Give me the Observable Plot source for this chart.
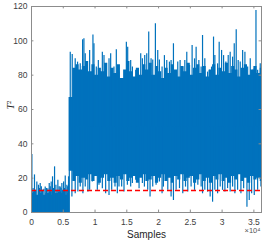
<!DOCTYPE html>
<html><head><meta charset="utf-8">
<script src="https://cdn.jsdelivr.net/npm/d3@7"></script>
<script src="https://cdn.jsdelivr.net/npm/@observablehq/plot@0.6"></script>
<style>html,body{margin:0;padding:0;background:#fff;}</style>
</head><body><div id="chart"></div>
<script>
// ---- data ----
const xTicks = [0, 5000, 10000, 15000, 20000, 25000, 30000, 35000];
const xTickLabels = ["0", "0.5", "1", "1.5", "2", "2.5", "3", "3.5"];
const yTicks = [0, 20, 40, 60, 80, 100, 120];
const threshold = 12.8;
const faultStart = 5950;
const faultStartTop = 67;

// normal operation: dense band 0..top
const normalX   = [0, 500, 1000, 1500, 2000, 2500, 3000, 3500, 4000, 4500, 5000, 5500, 5950];
const normalTop = [11, 12, 10, 11, 10, 11, 12, 10, 11, 12, 11, 10, 11];
const normalSpikeX = [60, 250, 470, 650, 840, 1100, 1250, 1370, 1550, 1730, 1950, 2160, 2350, 2570, 2790, 2950, 3100, 3310, 3450, 3630, 3840, 4000, 4150, 4350, 4520, 4650, 4780, 4900, 5050, 5200, 5310, 5450, 5570, 5700, 5830];
const normalSpikeY = [33.8, 14, 21.9, 13, 17.8, 15.9, 14, 16.9, 15, 13.0, 13.5, 14.9, 14, 13.9, 16.9, 15, 17.8, 20.8, 14, 26.6, 15.9, 13, 18.8, 15, 14.9, 14, 16.9, 13, 17.8, 14, 21.2, 13, 15.9, 15, 20.8];

// faulty operation: dense band skyline low..high (every 500 samples)
const faultX = [5950, 6500, 7000, 7500, 8000, 8500, 9000, 9500, 10000, 10500, 11000, 11500, 12000, 12500, 13000, 13500, 14000, 14500, 15000, 15500, 16000, 16500, 17000, 17500, 18000, 18500, 19000, 19500, 20000, 20500, 21000, 21500, 22000, 22500, 23000, 23500, 24000, 24500, 25000, 25500, 26000, 26500, 27000, 27500, 28000, 28500, 29000, 29500, 30000, 30500, 31000, 31500, 32000, 32500, 33000, 33500, 34000, 34500, 35000, 35500, 36000, 36200];
const faultHigh = [67, 84, 86, 83, 85, 88, 82, 86, 80, 84, 82, 87, 79, 84, 81, 86, 78, 83, 88, 82, 79, 84, 80, 86, 83, 87, 80, 85, 82, 78, 84, 81, 86, 83, 79, 85, 82, 87, 80, 84, 86, 81, 85, 79, 83, 86, 80, 84, 82, 87, 81, 85, 83, 79, 84, 86, 80, 83, 85, 81, 84, 82];
const faultLow  = [24, 18, 21, 17, 20, 19, 22, 18, 21, 17, 20, 22, 18, 20, 17, 21, 19, 22, 18, 20, 21, 17, 20, 22, 18, 19, 21, 17, 20, 22, 18, 20, 17, 21, 19, 22, 18, 20, 21, 17, 19, 22, 18, 20, 17, 21, 19, 22, 18, 20, 17, 21, 19, 22, 18, 20, 17, 21, 19, 20, 18, 20];

// upward spikes above the band
const peakX = [6100, 6410, 6880, 7250, 7670, 8040, 8250, 8460, 8730, 9150, 9670, 9830, 10200, 10520, 10880, 11150, 11410, 11780, 12200, 12460, 12720, 12980, 13350, 13770, 14300, 14930, 15140, 15610, 15880, 16400, 16820, 17190, 17450, 17820,
  18140, 18450, 18820, 19080, 19500, 19870, 20130, 20550, 20920, 21290, 21710, 21970, 22340, 22760, 23020, 23390, 23810, 24130, 24440, 24870, 25280, 25660, 25910, 26340, 26700,
  26920, 27280, 27710, 27960, 28340, 28650, 28860, 29290, 29540, 29920, 30230, 30590, 30960, 31270, 31650, 31910, 32220, 32530, 32850, 33230, 33590, 34020, 34430, 34810, 35060, 35330, 35590, 36000];
const peakY = [93.4, 92.0, 89.5, 87.6, 86.6, 100.6, 101.2, 92.5, 78.9, 94.4, 103.4, 98.3, 84.7, 88.5, 77.9, 93.4, 91.4, 86.6, 89.5, 92.5, 82.8, 84.7, 94.8, 81.8, 77.0, 99.2, 96.3, 88.5, 84.7, 82.8, 81.8, 92.5, 89.5, 91.4,
  92.5, 105.1, 89.5, 88.9, 109.9, 94.4, 88.9, 84.7, 91.4, 88.5, 87.6, 88.5, 98.3, 81.8, 87.6, 88.5, 84.7, 88.5, 93.4, 85.7, 97.3, 89.5, 96.3, 88.5, 84.7,
  103.1, 89.5, 81.8, 82.8, 84.7, 102.2, 91.4, 86.6, 99.2, 94.4, 91.4, 87.6, 91.4, 93.4, 90.5, 98.3, 106.4, 88.5, 87.6, 94.4, 93.4, 84.7, 89.5, 82.8, 83.8, 117.7, 82.8, 86.6];

// downward spikes below the band
const dipX = [6360, 6880, 7300, 7670, 8090, 8460, 8880, 9150, 9570, 10360, 10620, 11150, 11670, 12200, 12620, 13140, 13510, 13770, 14190, 14560, 15090, 15610, 15880, 16400, 16930, 17450,
  17770, 18290, 18660, 19080, 19610, 20130, 20550, 20760, 21450, 21970, 22340, 22760, 23290, 23810, 24240, 24600, 25120, 25660, 26180, 26700,
  26920, 27280, 27710, 28120, 28500, 28860, 29290, 29700, 30070, 30440, 30860, 31270, 31650, 32010, 32440, 32960, 33390, 33910, 34270, 34650, 35060, 35590, 36110];
const dipY = [9.0, 10.9, 11.9, 14.8, 10.9, 14.8, 11.9, 12.9, 17.8, 12.9, 15.9, 13.9, 10.9, 9.9, 12.9, 14.8, 10.9, 14.8, 14.8, 11.9, 15.9, 14.8, 16.9, 18.8, 13.9, 16.9,
  14.8, 12.9, 9.0, 14.8, 15.9, 17.8, 10.9, 14.8, 12.9, 9.0, 7.0, 12.9, 13.9, 10.9, 14.8, 11.9, 14.8, 12.9, 15.9, 14.8,
  10.9, 12.9, 11.9, 9.0, 6.0, 12.9, 10.9, 14.8, 12.9, 11.9, 13.9, 11.9, 14.8, 10.9, 12.9, 10.9, 13.9, 3.1, 7.0, 10.9, 9.9, 12.9, 14.8];

// ---- build tables ----
const normalBand = normalX.map((x, i) => ({x, top: normalTop[i]}));
const normalSpikes = normalSpikeX.map((x, i) => ({x, y: normalSpikeY[i]}));
const faultBand = faultX.map((x, i) => ({x, lo: faultLow[i], hi: faultHigh[i]}));
const peaks = peakX.map((x, i) => ({x, y: peakY[i]}));
const dips = dipX.map((x, i) => ({x, y: dipY[i]}));

const blue = "#0072BD";
const boxColor = "#8c8c8c";
const xMax = 36200;

const chart = Plot.plot({
  width: 262, height: 245,
  marginLeft: 31, marginRight: 1, marginTop: 6, marginBottom: 33,
  style: {fontFamily: "'Liberation Sans', Arial, sans-serif", fontSize: "8.5px", color: "#404040", background: "#fff", overflow: "visible"},
  x: {domain: [0, xMax]},
  y: {domain: [0, 120]},
  marks: [
    Plot.areaY(normalBand, {x: "x", y1: 0, y2: "top", fill: blue, curve: "step"}),
    Plot.ruleX(normalSpikes, {x: "x", y1: 0, y2: "y", stroke: blue, strokeWidth: 1.2}),
    Plot.ruleX([faultStart], {x: d => d, y1: 0, y2: faultStartTop, stroke: blue, strokeWidth: 1.2}),
    Plot.areaY(faultBand, {x: "x", y1: "lo", y2: "hi", fill: blue, curve: "step-after"}),
    Plot.ruleX(peaks, {x: "x", y1: 50, y2: "y", stroke: blue, strokeWidth: 1.2}),
    Plot.ruleX(dips, {x: "x", y1: "y", y2: 50, stroke: blue, strokeWidth: 1.2}),
    Plot.ruleY([threshold], {y: d => d, stroke: "#ff0000", strokeWidth: 1.5, strokeDasharray: "5,3"}),
    Plot.frame({stroke: boxColor, strokeWidth: 1}),
    // inward ticks (box on)
    Plot.ruleX(xTicks, {x: d => d, y1: 0, y2: 1.4, stroke: boxColor}),
    Plot.ruleX(xTicks, {x: d => d, y1: 120, y2: 118.6, stroke: boxColor}),
    Plot.ruleY(yTicks, {y: d => d, x1: 0, x2: 380, stroke: boxColor}),
    Plot.ruleY(yTicks, {y: d => d, x1: xMax - 380, x2: xMax, stroke: boxColor}),
    Plot.axisX(xTicks, {tickSize: 0, tickPadding: 6, label: null, tickFormat: d => xTickLabels[xTicks.indexOf(d)]}),
    Plot.axisY(yTicks, {tickSize: 0, tickPadding: 4, label: null}),
    Plot.text(["Samples"], {frameAnchor: "bottom", dy: 25, fontSize: 10, fill: "#262626"}),
    Plot.text(["×10⁴"], {frameAnchor: "bottom-right", dy: 20, dx: -1, textAnchor: "end", fontSize: 7.5, fill: "#555"}),
    Plot.text(["T²"], {frameAnchor: "left", dx: -21, rotate: -90, fontSize: 10, fontStyle: "italic", fontFamily: "'Liberation Serif', serif", fill: "#262626"})
  ]
});
document.getElementById("chart").appendChild(chart);
</script>
</body></html>
